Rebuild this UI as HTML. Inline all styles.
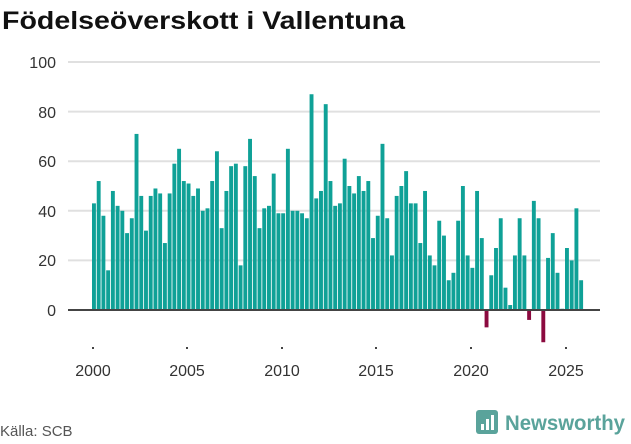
<!DOCTYPE html>
<html><head><meta charset="utf-8"><style>
body{margin:0;background:#fff;width:631px;height:439px;overflow:hidden;font-family:"Liberation Sans","DejaVu Sans",sans-serif}
</style></head><body>
<svg width="631" height="439" xmlns="http://www.w3.org/2000/svg" font-family="Liberation Sans, DejaVu Sans, sans-serif">
<text x="2" y="29" font-size="25" font-weight="bold" fill="#111" textLength="403" lengthAdjust="spacingAndGlyphs">Födelseöverskott i Vallentuna</text>
<g stroke="#e0e0e0" stroke-width="2">
<line x1="68" x2="600" y1="62" y2="62"/><line x1="68" x2="600" y1="111.6" y2="111.6"/>
<line x1="68" x2="600" y1="161.2" y2="161.2"/><line x1="68" x2="600" y1="210.8" y2="210.8"/>
<line x1="68" x2="600" y1="260.4" y2="260.4"/>
</g>
<g font-size="16" fill="#333" text-anchor="end">
<text x="56" y="68">100</text><text x="56" y="118">80</text><text x="56" y="167">60</text>
<text x="56" y="217">40</text><text x="56" y="266">20</text><text x="56" y="316">0</text>
</g>
<g id="bars"></g>
<line x1="68" x2="600" y1="310" y2="310" stroke="#444" stroke-width="2"/>
<g fill="#444"><rect x="92" y="347" width="2" height="2"/><rect x="186" y="347" width="2" height="2"/><rect x="281" y="347" width="2" height="2"/><rect x="375" y="347" width="2" height="2"/><rect x="470" y="347" width="2" height="2"/><rect x="565" y="347" width="2" height="2"/></g>
<g font-size="16" fill="#333" text-anchor="middle">
<text x="93" y="376">2000</text><text x="187" y="376">2005</text><text x="282" y="376">2010</text>
<text x="376" y="376">2015</text><text x="471" y="376">2020</text><text x="566" y="376">2025</text>
</g>
<text x="0" y="436" font-size="15" fill="#555">Källa: SCB</text>
<rect x="476" y="410" width="22" height="24" rx="3" fill="#5aa39b"/>
<rect x="481" y="424" width="3" height="6" fill="#fff"/><rect x="486" y="419" width="3" height="11" fill="#fff"/><rect x="491" y="415" width="3" height="15" fill="#fff"/>
<text x="505" y="430" font-size="21" font-weight="bold" fill="#5aa39b" textLength="120" lengthAdjust="spacingAndGlyphs">Newsworthy</text>
</svg>
<script>
var v=[43,52,38,16,48,42,40,31,37,71,46,32,46,49,47,27,47,59,65,52,51,46,49,40,41,52,64,33,48,58,59,18,58,69,54,33,41,42,55,39,39,65,40,40,39,37,87,45,48,83,52,42,43,61,50,47,54,48,52,29,38,67,37,22,46,50,56,43,43,27,48,
22,18,36,30,12,15,36,50,22,17,48,29,-7,14,25,37,9,2,22,37,22,-4,44,37,-13,21,31,15,0.5,25,20,41,12];
var g=document.getElementById('bars'),s='';
for(var i=0;i<v.length;i++){var x=92+i*4.73,h=Math.abs(v[i])*2.48,y=v[i]>=0?310-h:310;
s+='<rect x="'+x.toFixed(2)+'" y="'+y.toFixed(2)+'" width="3.9" height="'+h.toFixed(2)+'" fill="'+(v[i]>=0?'#0fa197':'#8b0a3f')+'"/>';}
g.innerHTML=s;
</script>
</body></html>
